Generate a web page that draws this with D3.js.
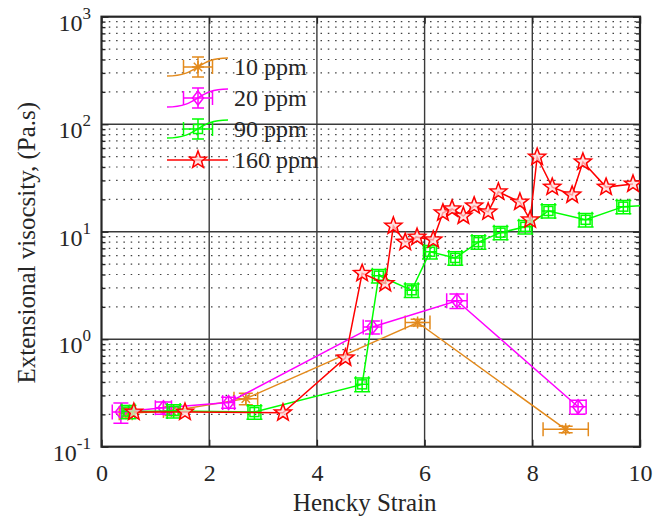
<!DOCTYPE html>
<html><head><meta charset="utf-8">
<script src="https://cdn.jsdelivr.net/npm/d3@7"></script>
<style>body{margin:0;background:#fff}svg text{font-family:"Times New Roman","Liberation Serif",Tinos,"DejaVu Serif",serif !important;fill:#262626}</style>
</head><body><svg id="c" width="655" height="527"></svg>
<script>
// ---- data ----
const seriesNames = ["10 ppm", "20 ppm", "90 ppm", "160 ppm"];
const seriesColors = ["#e38a1c", "#ff00ff", "#00ff00", "#ff0000"];

const x10 = [0.45, 1.3, 2.68, 5.87, 8.62];
const y10 = [0.205, 0.215, 0.28, 1.43, 0.145];
const xe10 = [0.12, 0.15, 0.22, 0.23, 0.42];
const ye10 = [0.02, 0.02, 0.035, 0.1, 0.01];

const x20 = [0.36, 1.15, 2.36, 5.03, 6.6, 8.85];
const y20 = [0.21, 0.23, 0.258, 1.3, 2.28, 0.235];
const xe20 = [0.16, 0.15, 0.11, 0.17, 0.19, 0.15];
const ye20 = [0.045, 0.03, 0.03, 0.18, 0.35, 0.035];

const x90 = [0.5, 1.34, 2.84, 4.84, 5.15, 5.76, 6.1, 6.57, 7.0, 7.41, 7.87, 8.3, 8.99, 9.69, 10.4];
const y90 = [0.212, 0.215, 0.21, 0.38, 3.9, 2.85, 6.5, 5.7, 8.0, 9.8, 11.1, 15.6, 12.9, 17.1, 17.8];
const xe90 = [0.12, 0.12, 0.12, 0.12, 0.12, 0.12, 0.12, 0.12, 0.12, 0.12, 0.12, 0.12, 0.12, 0.12, 0.12];
const ye90 = [0.03, 0.03, 0.03, 0.055, 0.56, 0.41, 0.93, 0.82, 1.15, 1.4, 1.6, 2.2, 1.85, 2.45, 2.5];

const x160 = [0.6, 1.55, 3.37, 4.53, 4.84, 5.27, 5.42, 5.64, 5.86, 6.16, 6.34, 6.51, 6.72, 6.92, 7.18, 7.37, 7.77, 7.96, 8.09, 8.37, 8.74, 8.94, 9.37, 9.87];
const y160 = [0.21, 0.21, 0.207, 0.67, 4.1, 3.3, 11.3, 8.0, 8.9, 8.4, 15.0, 16.3, 14.0, 17.4, 15.3, 23.5, 18.9, 12.9, 49.5, 26.0, 22.0, 44.6, 26.0, 27.8];

const xTicks = [0, 2, 4, 6, 8, 10];
const yTickExps = [-1, 0, 1, 2, 3];
const xLabel = "Hencky Strain";
const yLabel = "Extensional visocsity, (Pa.s)";

// ---- layout ----
const FONT = '"Times New Roman","Liberation Serif",Tinos,"DejaVu Serif",serif';
const svg = d3.select("#c");
const L = 101.5, R = 640, T = 16.7, B = 446.7;
const x = d3.scaleLinear().domain([0, 10]).range([L, R]);
const y = d3.scaleLog().domain([0.1, 1000]).range([B, T]);

svg.append("defs").append("clipPath").attr("id", "clip")
  .append("rect").attr("x", L).attr("y", T).attr("width", R - L).attr("height", B - T);

const minorVals = [];
[0.1, 1, 10, 100].forEach(d => { for (let k = 2; k <= 9; k++) minorVals.push(d * k); });
const majorVals = yTickExps.map(e => Math.pow(10, e));

// grid
const grid = svg.append("g");
grid.selectAll(".mg").data(minorVals).join("line")
  .attr("x1", L).attr("x2", R).attr("y1", d => y(d)).attr("y2", d => y(d))
  .attr("stroke", "#404040").attr("stroke-width", 1.2).attr("stroke-dasharray", "1.5,5.8");
grid.selectAll(".Mg").data(majorVals.slice(1, -1)).join("line")
  .attr("x1", L).attr("x2", R).attr("y1", d => y(d)).attr("y2", d => y(d))
  .attr("stroke", "#3a3a3a").attr("stroke-width", 1.4);
grid.selectAll(".xg").data(xTicks.slice(1, -1)).join("line")
  .attr("x1", d => x(d)).attr("x2", d => x(d)).attr("y1", T).attr("y2", B)
  .attr("stroke", "#3a3a3a").attr("stroke-width", 1.4);

// axes (inward ticks)
const axB = svg.append("g").attr("transform", `translate(0,${B})`)
  .call(d3.axisBottom(x).tickValues(xTicks).tickSize(-7).tickPadding(17).tickFormat(d3.format("d")));
const axT = svg.append("g").attr("transform", `translate(0,${T})`)
  .call(d3.axisTop(x).tickValues(xTicks).tickSize(-7).tickFormat(""));
const axL = svg.append("g").attr("transform", `translate(${L},0)`)
  .call(d3.axisLeft(y).tickValues(majorVals).tickSize(-7).tickFormat(""));
const axR = svg.append("g").attr("transform", `translate(${R},0)`)
  .call(d3.axisRight(y).tickValues(majorVals).tickSize(-7).tickFormat(""));
const axLm = svg.append("g").attr("transform", `translate(${L},0)`)
  .call(d3.axisLeft(y).tickValues(minorVals).tickSize(-4).tickFormat(""));
const axRm = svg.append("g").attr("transform", `translate(${R},0)`)
  .call(d3.axisRight(y).tickValues(minorVals).tickSize(-4).tickFormat(""));
[axB, axT, axL, axR, axLm, axRm].forEach(a => {
  a.attr("font-family", FONT);
  a.select(".domain").remove();
  a.selectAll(".tick line").attr("stroke", "#262626").attr("stroke-width", 1.4);
});
axB.selectAll(".tick text").attr("font-size", 24).attr("fill", "#262626");

// y tick labels with superscripts
const yl = svg.append("g").attr("font-family", FONT);
yTickExps.forEach(e => {
  const t = yl.append("text").attr("x", 91).attr("y", y(Math.pow(10, e)) + 14)
    .attr("text-anchor", "end").attr("font-size", 24);
  t.append("tspan").text("10");
  t.append("tspan").attr("dy", -12).attr("font-size", 17).text(String(e));
});

// box
svg.append("rect").attr("x", L).attr("y", T).attr("width", R - L).attr("height", B - T)
  .attr("fill", "none").attr("stroke", "#262626").attr("stroke-width", 2.2);

// axis labels
svg.append("text").attr("x", (L + R) / 2 - 6).attr("y", 511).attr("text-anchor", "middle")
  .attr("font-family", FONT).attr("font-size", 25).text(xLabel);
svg.append("text").attr("transform", `translate(35,${(T + B) / 2 + 11}) rotate(-90)`)
  .attr("font-family", FONT).attr("text-anchor", "middle").attr("font-size", 25).text(yLabel);

// ---- markers ----
function starPath(r) {
  const pts = [];
  for (let i = 0; i < 10; i++) {
    const a = -Math.PI / 2 + i * Math.PI / 5;
    const rr = i % 2 === 0 ? r : r * 0.42;
    pts.push([rr * Math.cos(a), rr * Math.sin(a)]);
  }
  return "M" + pts.map(p => p.join(",")).join("L") + "Z";
}
function drawMarker(g, type, cx, cy, color) {
  const m = g.append("g").attr("transform", `translate(${cx},${cy})`)
    .attr("stroke", color).attr("stroke-width", 1.5).attr("fill", "none");
  if (type === "asterisk") {
    const r = 6;
    m.append("path").attr("d", `M${-r},0H${r}M0,${-r}V${r}M${-r*0.7},${-r*0.7}L${r*0.7},${r*0.7}M${-r*0.7},${r*0.7}L${r*0.7},${-r*0.7}`);
  } else if (type === "diamond") {
    m.append("path").attr("d", "M0,-7L5.5,0L0,7L-5.5,0Z");
  } else if (type === "square") {
    m.append("rect").attr("x", -4.5).attr("y", -4.5).attr("width", 9).attr("height", 9);
  } else if (type === "star") {
    m.append("path").attr("d", starPath(9)).attr("fill", "#ffd6d6").attr("fill-opacity", 0.7);
  }
}
function drawErr(g, cx, x1, x2, cy, y1, y2, color, capH, capW) {
  g.append("path").attr("stroke", color).attr("stroke-width", 1.5).attr("fill", "none")
    .attr("d", `M${x1},${cy}H${x2}M${x1},${cy - capH}V${cy + capH}M${x2},${cy - capH}V${cy + capH}` +
      `M${cx},${y1}V${y2}M${cx - capW},${y1}H${cx + capW}M${cx - capW},${y2}H${cx + capW}`);
}

const plot = svg.append("g").attr("clip-path", "url(#clip)");
const line = d3.line().x(d => x(d[0])).y(d => y(d[1]));

const series = [
  { xs: x10, ys: y10, xe: xe10, ye: ye10, color: seriesColors[0], m: "asterisk", cap: 7 },
  { xs: x20, ys: y20, xe: xe20, ye: ye20, color: seriesColors[1], m: "diamond", cap: 7.5 },
  { xs: x90, ys: y90, xe: xe90, ye: ye90, color: seriesColors[2], m: "square", cap: 8 },
  { xs: x160, ys: y160, xe: null, ye: null, color: seriesColors[3], m: "star", cap: 0 }
];
series.forEach(s => {
  const pts = s.xs.map((v, i) => [v, s.ys[i]]);
  plot.append("path").datum(pts).attr("d", line).attr("fill", "none")
    .attr("stroke", s.color).attr("stroke-width", 1.5);
  const g = plot.append("g");
  pts.forEach((p, i) => {
    if (s.xe) {
      drawErr(g, x(p[0]), x(p[0] - s.xe[i]), x(p[0] + s.xe[i]), y(p[1]),
        y(p[1] + s.ye[i]), y(p[1] - s.ye[i]), s.color, s.cap, s.cap);
    }
    drawMarker(g, s.m, x(p[0]), y(p[1]), s.color);
  });
});

// ---- legend ----
const legY = [67, 98, 129, 160];
const lg = svg.append("g");
series.forEach((s, i) => {
  const cy = legY[i], cx = 198;
  if (s.xe) {
    lg.append("path").attr("d", `M167,${cy + 9}C${cx + 2},${cy + 9} ${cx - 2},${cy - 9} 228,${cy - 9}`)
      .attr("fill", "none").attr("stroke", s.color).attr("stroke-width", 1.4);
    drawErr(lg, cx, cx - 14.5, cx + 14.5, cy, cy - 10, cy + 10, s.color, 7, 6);
  } else {
    lg.append("line").attr("x1", 167).attr("x2", 228).attr("y1", cy).attr("y2", cy)
      .attr("stroke", s.color).attr("stroke-width", 1.5);
  }
  drawMarker(lg, s.m, cx, cy, s.color);
  lg.append("text").attr("x", 234).attr("y", cy + 8).attr("font-family", FONT)
    .attr("font-size", 24).text(seriesNames[i]);
});
</script></body></html>
